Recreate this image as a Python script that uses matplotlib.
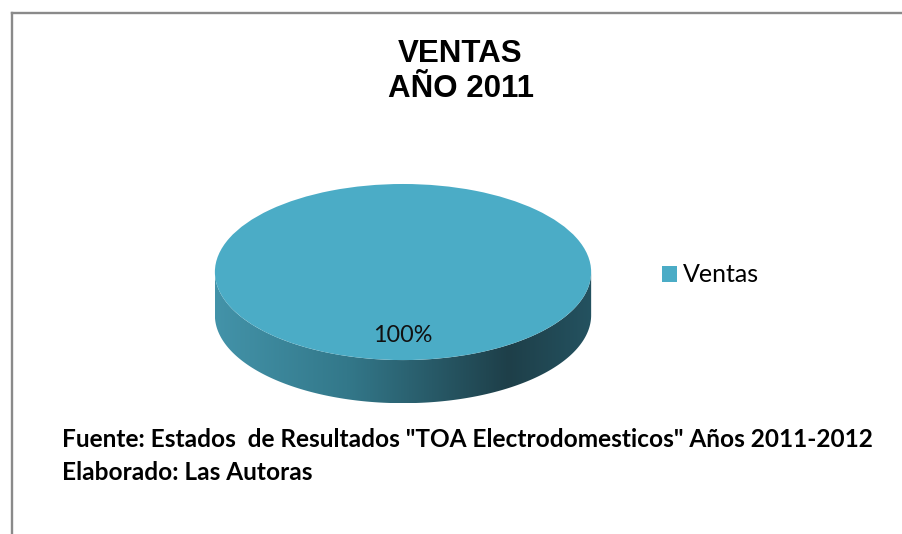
import numpy as np
import matplotlib.pyplot as plt
from matplotlib.patches import Polygon
from matplotlib.lines import Line2D
from matplotlib.colors import LinearSegmentedColormap

# datos
categorias = ["Ventas"]
valores = [100]
titulo = ["VENTAS", "AÑO 2011"]
nota = ["Fuente: Estados  de Resultados \"TOA Electrodomesticos\" Años 2011-2012",
        "Elaborado: Las Autoras"]

color_top = "#4bacc6"
depth = 0.49  # grosor del "3D" en unidades del radio
W, H = 902, 534

fig = plt.figure(figsize=(9.02, 5.34), dpi=100)
fig.patch.set_facecolor("white")

# marco (solo izquierda y arriba visibles en el recorte)
gris = "#8a8a8a"
fig.add_artist(Line2D([11.5 / W, 11.5 / W], [0, 1 - 12.5 / H], color=gris, lw=1.7))
fig.add_artist(Line2D([11.5 / W, 1], [1 - 12.5 / H, 1 - 12.5 / H], color=gris, lw=1.7))

ax = fig.add_axes([0.2278, 0.2367, 0.438, 0.427])
ax.axis("off")

# lateral del cilindro con degradado
t = np.linspace(np.pi, 2 * np.pi, 200)
xs = np.cos(t)
ys = np.sin(t)
side = np.concatenate([np.column_stack([xs, ys]),
                       np.column_stack([xs[::-1], ys[::-1] - depth])])
poly = Polygon(side, closed=True, facecolor="none", edgecolor="none")
ax.add_patch(poly)
cmap = LinearSegmentedColormap.from_list(
    "lado", [(0, "#4393a9"), (0.35, "#33788a"), (0.78, "#1e3f49"), (1.0, "#245260")])
grad = np.linspace(0, 1, 256).reshape(1, -1)
im = ax.imshow(grad, cmap=cmap, extent=(-1, 1, -1 - depth, 0), aspect="auto",
               zorder=1, interpolation="bilinear")
im.set_clip_path(poly)

# cara superior
wedges, texts, autotexts = ax.pie(
    valores, colors=[color_top], radius=1, startangle=90, autopct="%1.0f%%",
    pctdistance=0.72, wedgeprops={"linewidth": 0},
    textprops={"fontsize": 16.8, "family": "Lato", "color": "#111111"})
for w in wedges:
    w.set_zorder(2)
for a in autotexts:
    a.set_zorder(3)
ax.set_xlim(-1.05, 1.05)
ax.set_ylim(-1 - depth - 0.05, 1.05)
ax.set_aspect("auto")

# titulo
for linea, base in zip(titulo, [62, 97]):
    fig.text(460.5 / W, 1 - base / H, linea, ha="center", va="baseline",
             fontsize=22.5, fontweight="bold", family="Liberation Sans")

leg = fig.legend(wedges, categorias, loc="center left",
                 bbox_to_anchor=(639 / W, 1 - 275 / H), frameon=False,
                 prop={"family": "Lato", "size": 18}, handlelength=0.6,
                 handleheight=0.6, handletextpad=0.25)

# fuente
for linea, base in zip(nota, [447, 480]):
    fig.text(62 / W, 1 - base / H, linea, ha="left", va="baseline",
             fontsize=17.6, fontweight="bold", family="Lato")

fig.savefig("out.png", dpi=100, facecolor="white")
